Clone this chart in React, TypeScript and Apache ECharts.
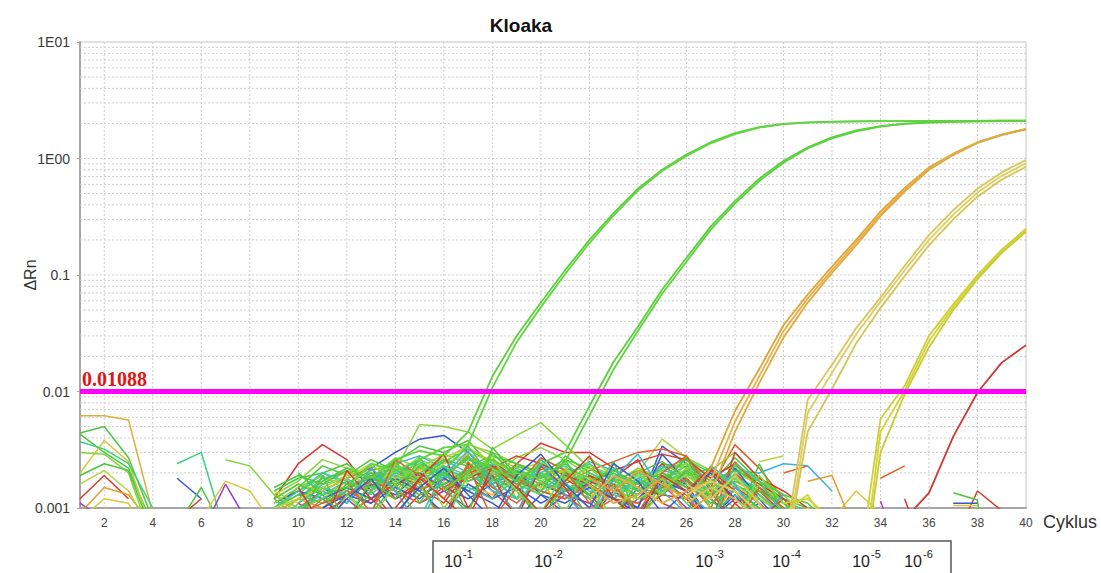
import React, { useEffect, useRef } from "react";
import * as echarts from "echarts";

// ---------- axes ----------
const CYCLE_FIRST = 1;
const CYCLE_LAST = 40;
const cycleTickLabels = [2, 4, 6, 8, 10, 12, 14, 16, 18, 20, 22, 24, 26, 28, 30, 32, 34, 36, 38, 40];

const RN_MIN = 0.001;
const RN_MAX = 10;
const rnDecades = [-3, -2, -1, 0, 1];
const rnTickLabels = ["0.001", "0.01", "0.1", "1E00", "1E01"];
const rnMinorSteps = [2, 3, 4, 5, 6, 7, 8, 9];

const THRESHOLD = 0.01088;

const chartTitle = "Kloaka";
const xAxisTitle = "Cyklus";
const yAxisTitle = "ΔRn";
const dilutionExponents = ["-1", "-2", "-3", "-4", "-5", "-6"];

// ---------- amplification curves (ΔRn), one array per well, starting at the given cycle ----------
const dil1Start = [12, 12];
const dil1Wells = [
  [0.0022, 0.0018, 0.0026, 0.0031, 0.0028, 0.0045, 0.0135, 0.03, 0.058, 0.11, 0.2, 0.34, 0.55, 0.8, 1.08, 1.38, 1.65, 1.86, 1.98, 2.04, 2.07, 2.08, 2.09, 2.09, 2.1, 2.1, 2.1, 2.11, 2.11],
  [0.0015, 0.0024, 0.0021, 0.0026, 0.0033, 0.0035, 0.0108, 0.0265, 0.053, 0.102, 0.188, 0.325, 0.53, 0.78, 1.05, 1.35, 1.62, 1.84, 1.97, 2.03, 2.06, 2.08, 2.09, 2.09, 2.1, 2.1, 2.1, 2.11, 2.11],
];

const dil2Start = [16, 16];
const dil2Wells = [
  [0.0019, 0.0027, 0.0022, 0.0017, 0.0024, 0.003, 0.0075, 0.018, 0.036, 0.075, 0.14, 0.26, 0.43, 0.67, 0.95, 1.25, 1.52, 1.74, 1.9, 1.99, 2.04, 2.07, 2.08, 2.09, 2.1],
  [0.0014, 0.0021, 0.0026, 0.002, 0.0018, 0.0025, 0.0062, 0.0155, 0.033, 0.069, 0.13, 0.245, 0.41, 0.64, 0.92, 1.22, 1.49, 1.71, 1.88, 1.98, 2.03, 2.06, 2.08, 2.09, 2.1],
];

const dil3Start = [22, 22, 22];
const dil3Wells = [
  [0.0018, 0.0014, 0.0021, 0.0016, 0.0012, 0.0022, 0.0068, 0.0155, 0.037, 0.068, 0.118, 0.2, 0.35, 0.56, 0.84, 1.1, 1.38, 1.6, 1.8],
  [0.0012, 0.0019, 0.0015, 0.0011, 0.0014, 0.0017, 0.0055, 0.0135, 0.033, 0.063, 0.11, 0.19, 0.33, 0.54, 0.82, 1.09, 1.37, 1.6, 1.79],
  [0.0016, 0.0011, 0.0013, 0.0018, 0.0009, 0.0013, 0.0045, 0.0118, 0.029, 0.058, 0.104, 0.18, 0.32, 0.52, 0.8, 1.07, 1.36, 1.59, 1.78],
];

const dil4Start = [26, 26, 26];
const dil4Wells = [
  [0.0016, 0.0012, 0.0019, 0.0011, 0.0004, 0.0085, 0.017, 0.035, 0.064, 0.12, 0.22, 0.36, 0.55, 0.76, 0.97],
  [0.0013, 0.0017, 0.0014, 0.0009, 0.0003, 0.0065, 0.0145, 0.031, 0.059, 0.11, 0.2, 0.33, 0.51, 0.71, 0.91],
  [0.0011, 0.0015, 0.0012, 0.0008, 0.0003, 0.0045, 0.0105, 0.026, 0.052, 0.098, 0.18, 0.3, 0.47, 0.66, 0.85],
];

const dil5Start = [30, 30, 30];
const dil5Wells = [
  [0.0011, 0.0012, 0.0008, 0.0002, 0.0058, 0.0112, 0.03, 0.056, 0.1, 0.165, 0.25],
  [0.0009, 0.0013, 0.0006, 0.0001, 0.0045, 0.0102, 0.027, 0.053, 0.096, 0.16, 0.24],
  [0.0008, 0.001, 0.0007, 0.0001, 0.003, 0.0095, 0.024, 0.05, 0.092, 0.155, 0.235],
];

const dil6Start = [35];
const dil6Wells = [[0.0008, 0.00135, 0.0041, 0.0098, 0.0177, 0.025]];

// ---------- baseline noise of the remaining wells (ΔRn in units of 1e-4; null = no value) ----------
const BASELINE_UNIT = 1e-4;
const baselineStart = [
  1, 1, 1, 1, 1, 1, 1, 1, 1, 1, 1, 1,
  5, 5, 5, 5, 6, 6, 7,
  9, 9, 9, 9, 9, 9, 9, 9, 9, 9, 9, 9, 9, 9, 9, 9, 9, 9,
  9, 9, 9, 9, 9, 9, 9, 9, 9, 9, 9, 9, 9, 9, 9, 9, 9, 9,
  32, 34, 34, 37, 37, 37, 37, 35, 29, 30, 31,
  10, 10, 11, 12, 12, 13, 10, 11, 12, 14,
];
const baselineTraces: (number | null)[][] = [
  [62, 62, 57, 9],
  [44, 50, 27, 8],
  [43, 30, 22, 7],
  [20, 38, 25, 6],
  [30, 29, 20, 5],
  [19, 24, 21, 6],
  [12, 19, 12],
  [8, 12, 11, 5],
  [11, 8],
  [9, 15, 13, 7],
  [16, 21, 14, 6],
  [37, 32, 24, 10],
  [24, 30, 6],
  [18, 12],
  [7, 15, 6],
  [8, 12],
  [8, 17, 14, 7],
  [6, 16, 7],
  [26, 23, 13, 9],
  [12, 24, 35, 26, 14, 8, 13, 16, 20, 12, 24, 36, 30, 30, 22, 14, 18, 12, 7, 15, 11, 7],
  [null, 13, 15, 11, 22, 30, 39, 42, 30, 18, 12, 16, 13, 8, 14, 10, 34, 24, 12, 8, 11, 7],
  [10, 14, 18, 16, 14, 21, 52, 50, 45, 32, 42, 54, 35, 22, 18, 12, 15, 20, 14, 10, 8],
  [14, 18, 20, 24, 17, 25, 34, 30, 38, 22, 20, 16, 22, 18, 14, 20, 25, 18, 12, 22, 15, 10, 7],
  [8, 12, 16, 22, 20, 18, 28, 24, 36, 28, 22, 24, 20, 17, 13, 20, 39, 27, 18, 12, 10, 7],
  [null, 8, 12, 15, 19, 22, 14, 18, 28, 16, 24, 20, 16, 21, 25, 30, 32, 28, 15, 35, 22, 12, 7],
  [null, 12, 18, 20, 15, 24, 28, 22, 17, 20, 15, 23, 19, 25, 21, 16, 22, 24, 17, 21, 20, 24, 23, 14],
  [10, 15, 23, 19, 26, 21, 18, 25, 32, 24, 19, 15, 28, 20, 16, 13, 24, 22, 16, 27, 17, 12, 10, 6],
  [7, 11, 16, 18, 13, 20, 24, 16, 21, 18, 14, 19, 23, 16, 12, 18, 21, 19, 14, 18, 13, 8],
  [11, 14, 12, 8, 16, 13, 20, 15, 12, 16, 21, 13, 9, 17, 14, 12, 20, 16, 8, 13, 7],
  [13, 17, 26, 22, 18, 27, 22, 29, 24, 19, 27, 33, 26, 19, 16, 22, 18, 27, 21, 30, 18, 13, 8],
  [null, 10, 14, 18, 22, 12, 17, 7, 24, 14, 9, 22, 18, 13, 8, 15, 24, 16, 6, 11, 14, 9],
  [12, 8, 15, 13, 19, 16, 22, 18, 28, 15, 17, 23, 14, 19, 12, 17, 15, 21, 13, 24, 15, 11, 7],
  [null, 13, 20, 16, 23, 18, 14, 20, 26, 21, 16, 13, 19, 24, 17, 14, 22, 26, 20, 16, 12, 9],
  [9, 12, 10, 15, 18, 14, 22, 17, 30, 20, 16, 7, 15, 10, 13, 11, 17, 14, 8, 16, 11, 7],
  [14, 11, 17, 20, 15, 12, 19, 23, 16, 13, 18, 15, 22, 14, 8, 13, 19, 15, 12, 17, 13, 8],
  [10, 13, 11, 16, 21, 24, 17, 20, 14, 18, 23, 19, 16, 12, 18, 15, 13, 19, 22, 15, 14, 12, 9],
  [null, null, 9, 12, 8, null, 11, 14, 10, null, null, 9, 13, 11, 8, 12, 16, 10, 8],
  [null, 11, 8, 13, 16, 12, 15, 11, 21, 26, 17, 14, 12, 19, 15, 9, 13, 12, 7, 30, 18, 14, 10, 7],
  [null, 9, 14, 11, 18, 23, 19, 26, 20, 14, 12, 17, 21, 15, 13, 18, 14, 16, 11, 15, 10, 7],
  [11, 15, 19, 14, 12, 17, 26, 21, 35, 30, 24, 20, 17, 23, 19, 16, 21, 24, 19, 23, 16, 11, 8],
  [null, 12, 17, 22, 18, 15, 23, 19, 27, 17, 21, 18, 24, 17, 20, 14, 17, 20, 15, 19, 14, 11, 8],
  [null, null, 10, 14, 11, 19, 16, 8, 25, 15, 11, 17, 13, 9, 12, 11, 15, 13, 7, 20, 13, 9],
  [10, 14, 20, 17, 14, 19, 15, 22, 18, 24, 18, 14, 20, 14, 12, 17, 23, 17, 13, 18, 15, 12, 9],
  [12, 16, 14, 18, 24, 20, 16, 24, 29, 26, 19, 22, 18, 15, 17, 21, 19, 15, 12, 20, 16, 11],
  [null, null, null, 9, 12, 16, 20, 14, 18, 22, 28, 24, 19, 16, 21, 25, 29, 26, 18, 24, 16, 12, 8],
  [null, 10, 12, 15, 12, 18, 14, 9, 16, 12, 15, 11, 14, 16, 12, 10, 29, 17, 12, 22, 12, 7],
  [15, 19, 16, 21, 17, 23, 20, 26, 23, 28, 24, 20, 26, 22, 17, 21, 18, 23, 17, 21, 17, 13, 11, 7],
  [null, null, 11, 14, 20, 17, 13, 16, 22, 19, 14, 8, 16, 13, 18, 12, 14, 17, 11, 14, 10, 7],
  [13, 10, 12, 17, 14, 22, 18, 15, 19, 23, 17, 13, 18, 22, 15, 19, 16, 12, 14, 18, 12, 9],
  [null, 11, 15, 13, 17, 21, 25, 19, 15, 12, 18, 20, 16, 12, 15, 20, 17, 14, 9, 13, 9],
  [10, 12, 15, 19, 23, 18, 21, 27, 33, 25, 20, 17, 21, 18, 14, 12, 16, 19, 13, 16, 11],
  [null, 9, 11, 13, 17, 14, 11, 15, 20, 23, 18, 14, 12, 16, 12, 8, 14, 18, 10, 25, 15, 10],
  [12, 16, 13, 15, 18, 16, 24, 20, 17, 21, 16, 19, 14, 17, 21, 16, 20, 15, 13, 17, 14, 10],
  [null, 10, 13, 17, 15, 20, 17, 23, 19, 16, 22, 17, 14, 20, 16, 13, 18, 21, 15, 19, 13, 9],
  [null, null, 10, 13, 11, 15, 12, 18, 14, 11, 8, 13, 11, 15, 12, 9, 17, 14, 8, 12, 8],
  [8, 14, 9],
  [18, 23],
  [11.5, 3],
  [5, 14, 9.5],
  [13.5, 11.7, 0.2],
  [11, 11],
  [10.5, 10.5],
  [12, 3],
  [25, 28],
  [20, 23],
  [17, 19, 6],
  [8, 19, 7, 14, 26, 11, 22, 9, 30, 18, 7, 20, 13, 25, 8, 16, 27, 12, 7, 24, 9],
  [15, 7, 21, 12, 8, 18, 29, 10, 19, 8, 23, 15, 7, 18, 26, 11, 9, 21, 14, 8, 12],
  [6, 13, 9, 24, 16, 7, 20, 28, 12, 17, 9, 27, 19, 8, 14, 22, 10, 7, 19, 11],
  [11, 22, 14, 7, 19, 31, 16, 9, 24, 13, 8, 18, 29, 14, 9, 23, 16, 8, 13],
  [17, 9, 26, 19, 12, 23, 8, 15, 27, 21, 11, 16, 9, 20, 28, 14, 7, 15, 10],
  [9, 16, 8, 21, 34, 18, 12, 26, 17, 8, 22, 14, 19, 11, 7, 24, 17, 9],
  [20, 13, 8, 17, 12, 27, 15, 9, 33, 19, 14, 26, 12, 8, 17, 13, 21, 15, 8, 12],
  [7, 12, 18, 9, 15, 22, 13, 8, 19, 29, 16, 10, 24, 17, 9, 14, 20, 12, 8],
  [13, 8, 16, 24, 10, 18, 26, 14, 9, 21, 16, 8, 20, 13, 25, 10, 8, 16],
  [10, 18, 12, 8, 23, 15, 9, 17, 28, 12, 8, 19, 14, 22, 11, 7],
];

// ---------- styles ----------
const RED = "#d63a2a";
const ORANGE_RED = "#e0602a";
const ORANGE = "#e39a2e";
const GOLD = "#dcae3c";
const YELLOW = "#d8c83a";
const YELLOW_GREEN = "#b0d43a";
const LIME = "#84d63c";
const GREEN = "#4cc83e";
const SEA_GREEN = "#3ccf82";
const TEAL = "#3cc8b4";
const CYAN = "#3cb4dc";
const BLUE = "#3a58d0";
const PURPLE = "#9a3ad0";
const MAGENTA = "#c43ac8";

const baselineColor = [
  GOLD, GREEN, GREEN, YELLOW, LIME, GREEN, RED, YELLOW, PURPLE, ORANGE, YELLOW_GREEN, SEA_GREEN,
  SEA_GREEN, BLUE, GREEN, RED, YELLOW, PURPLE, LIME,
  RED, BLUE, LIME, GREEN, YELLOW_GREEN, ORANGE_RED, CYAN, GREEN, TEAL, BLUE, LIME, RED, GREEN, SEA_GREEN, ORANGE, YELLOW, GREEN, PURPLE,
  RED, CYAN, LIME, GREEN, ORANGE_RED, TEAL, YELLOW_GREEN, RED, BLUE, GREEN, GREEN, LIME, TEAL, YELLOW_GREEN, ORANGE_RED, GREEN, SEA_GREEN, BLUE,
  YELLOW, ORANGE_RED, MAGENTA, RED, GREEN, BLUE, YELLOW, RED, YELLOW_GREEN, ORANGE_RED, ORANGE,
  GREEN, RED, LIME, CYAN, ORANGE_RED, SEA_GREEN, GREEN, BLUE, LIME, RED,
];

const dilutionColors = [
  ["#5cd23a", "#62d440"],
  ["#58d03a", "#5ed23e"],
  ["#e3a232", "#e6b04a", "#deaa3e"],
  ["#d8c65a", "#dccd62", "#d4c454"],
  ["#ccd034", "#d2d23a", "#c8cc30"],
  ["#cc3a32"],
];

const GRID_LINE = "#cdcdcd";
const AXIS_LINE = "#a6a6a6";
const FONT = "'Liberation Sans', Arial, sans-serif";

// layout of the dilution key below the axis
const dilutionLabelX = [462, 552, 713, 790, 870, 922];

function toPoints(start: number, values: (number | null)[], unit = 1) {
  return values.map((v, i) => [start + i, v == null ? "-" : v * unit]);
}

function curveSeries(data: any[], color: string, width: number, z: number) {
  return {
    type: "line",
    data,
    showSymbol: false,
    symbol: "none",
    clip: true,
    silent: true,
    z,
    lineStyle: { color, width },
    emphasis: { disabled: true },
  };
}

function buildOption() {
  const series: any[] = [];

  // horizontal log grid lines
  rnDecades.slice(0, -1).forEach((d) => {
    rnMinorSteps.forEach((k) => {
      const v = k * Math.pow(10, d);
      series.push({
        ...curveSeries([[CYCLE_FIRST, v], [CYCLE_LAST, v]], GRID_LINE, 1, 1),
        lineStyle: { color: GRID_LINE, width: 1, type: [2, 2] },
      });
    });
    if (d > rnDecades[0]) {
      const v = Math.pow(10, d);
      series.push({
        ...curveSeries([[CYCLE_FIRST, v], [CYCLE_LAST, v]], GRID_LINE, 1, 1),
        lineStyle: { color: GRID_LINE, width: 1, type: [2, 2] },
      });
    }
  });
  // vertical grid lines at labelled cycles
  cycleTickLabels.slice(0, -1).forEach((c) => {
    series.push({
      ...curveSeries([[c, RN_MIN], [c, RN_MAX]], GRID_LINE, 1, 1),
      lineStyle: { color: GRID_LINE, width: 1, type: [2, 2] },
    });
  });

  // baseline noise
  baselineTraces.forEach((vals, i) => {
    series.push(curveSeries(toPoints(baselineStart[i], vals, BASELINE_UNIT), baselineColor[i], 1.5, 3));
  });

  // amplification curves
  const groups = [
    [dil1Start, dil1Wells],
    [dil2Start, dil2Wells],
    [dil3Start, dil3Wells],
    [dil4Start, dil4Wells],
    [dil5Start, dil5Wells],
    [dil6Start, dil6Wells],
  ] as [number[], number[][]][];
  groups.forEach(([starts, wells], g) => {
    wells.forEach((vals, i) => {
      series.push(curveSeries(toPoints(starts[i], vals), dilutionColors[g][i % dilutionColors[g].length], 1.8, 4));
    });
  });

  // threshold
  series.push({
    type: "line",
    data: [],
    silent: true,
    z: 6,
    markLine: {
      silent: true,
      symbol: "none",
      animation: false,
      lineStyle: { color: "#ff00ff", width: 5, type: "solid" },
      label: {
        show: true,
        position: "insideStartTop",
        distance: [2, 3],
        formatter: () => String(THRESHOLD),
        color: "#e01515",
        fontFamily: "'Liberation Serif', 'Times New Roman', serif",
        fontWeight: "bold",
        fontSize: 20,
      },
      emphasis: { disabled: true },
      data: [{ yAxis: THRESHOLD }],
    },
  });

  const graphic: any[] = [
    {
      type: "text",
      x: 521,
      y: 25,
      style: { text: chartTitle, font: `bold 19px ${FONT}`, fill: "#111", align: "center", verticalAlign: "middle" },
    },
    {
      type: "text",
      x: 30,
      y: 275,
      rotation: Math.PI / 2,
      style: { text: yAxisTitle, font: `16px ${FONT}`, fill: "#333", align: "center", verticalAlign: "middle" },
    },
    {
      type: "text",
      x: 1043,
      y: 522,
      style: { text: xAxisTitle, font: `18px ${FONT}`, fill: "#333", align: "left", verticalAlign: "middle" },
    },
    {
      type: "rect",
      shape: { x: 433, y: 541, width: 518, height: 60 },
      style: { fill: "none", stroke: "#555", lineWidth: 1.5 },
    },
  ];
  dilutionExponents.forEach((exp, i) => {
    const x = dilutionLabelX[i];
    graphic.push({
      type: "text",
      x,
      y: 561,
      style: { text: "10", font: `16px ${FONT}`, fill: "#222", align: "right", verticalAlign: "middle" },
    });
    graphic.push({
      type: "text",
      x: x + 1,
      y: 554,
      style: { text: exp, font: `11px ${FONT}`, fill: "#222", align: "left", verticalAlign: "middle" },
    });
  });

  return {
    animation: false,
    backgroundColor: "#ffffff",
    grid: {
      left: 80,
      right: 75,
      top: 42,
      bottom: 65,
      show: true,
      borderColor: "#c4c4c4",
      borderWidth: 1,
      backgroundColor: "transparent",
    },
    xAxis: {
      type: "value",
      min: CYCLE_FIRST,
      max: CYCLE_LAST,
      interval: 1,
      axisLine: { show: true, onZero: false, lineStyle: { color: AXIS_LINE, width: 2 } },
      axisTick: { show: false },
      splitLine: { show: false },
      axisLabel: {
        margin: 9,
        color: "#444",
        fontSize: 12,
        fontFamily: FONT,
        formatter: (v: number) => (cycleTickLabels.includes(v) ? String(v) : ""),
      },
    },
    yAxis: {
      type: "log",
      logBase: 10,
      min: RN_MIN,
      max: RN_MAX,
      axisLine: { show: true, lineStyle: { color: AXIS_LINE, width: 2 } },
      axisTick: { show: true, length: 3, lineStyle: { color: AXIS_LINE } },
      splitLine: { show: false },
      axisLabel: {
        margin: 10,
        color: "#3a3a3a",
        fontSize: 14,
        fontFamily: FONT,
        formatter: (v: number) => {
          const idx = rnDecades.indexOf(Math.round(Math.log10(v)));
          return idx >= 0 ? rnTickLabels[idx] : "";
        },
      },
    },
    graphic,
    series,
  };
}

export default function App() {
  const ref = useRef<HTMLDivElement>(null);
  useEffect(() => {
    if (!ref.current) return;
    const chart = echarts.init(ref.current, undefined, { renderer: "svg" });
    chart.setOption(buildOption() as any);
    return () => chart.dispose();
  }, []);
  return (
    <div
      ref={ref}
      style={{ position: "fixed", left: 0, top: 0, width: 1101, height: 573, background: "#fff" }}
    />
  );
}
